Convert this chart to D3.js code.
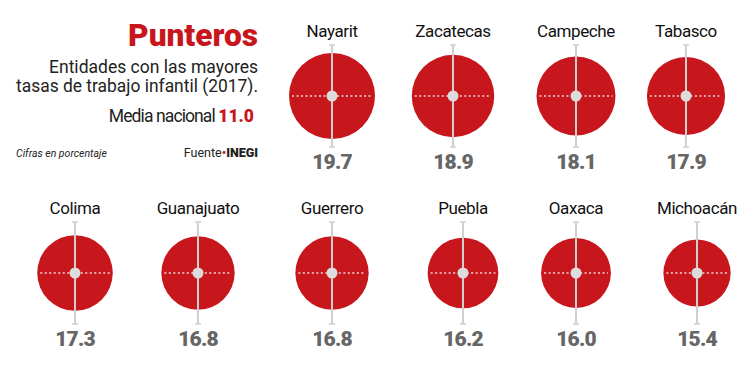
<!DOCTYPE html>
<html>
<head>
<meta charset="utf-8">
<script src="https://cdn.jsdelivr.net/npm/d3@7"></script>
<style>
  body { margin: 0; background: #fff; }
  text { font-family: Roboto, "Open Sans", sans-serif; }
</style>
</head>
<body>
<div id="chart"></div>
<script>
var estados = ["Nayarit", "Zacatecas", "Campeche", "Tabasco", "Colima", "Guanajuato", "Guerrero", "Puebla", "Oaxaca", "Michoacán"];
var tasas = [19.7, 18.9, 18.1, 17.9, 17.3, 16.8, 16.8, 16.2, 16.0, 15.4];
var etiquetas = ["19.7", "18.9", "18.1", "17.9", "17.3", "16.8", "16.8", "16.2", "16.0", "15.4"];
var fila = [0, 0, 0, 0, 1, 1, 1, 1, 1, 1];
var columnaX = [332, 453, 576, 686, 75, 198, 332, 463, 576, 697];

var width = 750, height = 367;
var rojo = "#c8161d", gris = "#666";

var svg = d3.select("#chart").append("svg")
  .attr("width", width)
  .attr("height", height);

/* radio proporcional al valor */
var r = d3.scaleLinear().domain([0, 19.7]).range([0, 43]);
var y = d3.scaleOrdinal().domain([0, 1]).range([96, 273]);

/* encabezado */
var head = svg.append("g").attr("text-anchor", "end");
head.append("text").attr("x", 258).attr("y", 46)
  .attr("fill", rojo).attr("font-size", 31).attr("font-weight", 900)
  .attr("textLength", 130).attr("lengthAdjust", "spacingAndGlyphs")
  .text("Punteros");
head.append("text").attr("x", 258).attr("y", 73)
  .attr("fill", "#222").attr("font-size", 17.5)
  .attr("textLength", 209).attr("lengthAdjust", "spacingAndGlyphs")
  .text("Entidades con las mayores");
head.append("text").attr("x", 258).attr("y", 92)
  .attr("fill", "#222").attr("font-size", 17.5)
  .attr("textLength", 242).attr("lengthAdjust", "spacingAndGlyphs")
  .text("tasas de trabajo infantil (2017).");
var media = head.append("text").attr("x", 254).attr("y", 122)
  .attr("font-size", 17.5).attr("fill", "#222");
media.append("tspan").style("letter-spacing", "-0.9px").text("Media nacional ");
media.append("tspan").attr("fill", rojo).attr("font-weight", 900).text("11.0");

svg.append("text").attr("x", 16).attr("y", 157)
  .attr("font-size", 10.5).attr("font-style", "italic").attr("fill", "#222")
  .text("Cifras en porcentaje");
var fuente = svg.append("text").attr("x", 258).attr("y", 157)
  .attr("text-anchor", "end").attr("font-size", 12.5).attr("fill", "#222");
fuente.append("tspan").text("Fuente");
fuente.append("tspan").attr("fill", rojo).attr("font-weight", 700).text("•");
fuente.append("tspan").attr("font-weight", 900).text("INEGI");

/* burbujas */
var data = estados.map(function(d, i) {
  return { nombre: d, valor: tasas[i], etiqueta: etiquetas[i], x: columnaX[i], fila: fila[i] };
});

var g = svg.selectAll(".estado")
  .data(data)
  .enter().append("g")
  .attr("class", "estado")
  .attr("transform", function(d) { return "translate(" + d.x + "," + y(d.fila) + ")"; });

g.append("circle")
  .attr("r", function(d) { return r(d.valor); })
  .attr("fill", rojo);

g.append("line")
  .attr("x1", function(d) { return -r(d.valor) + 3; })
  .attr("x2", function(d) { return r(d.valor) - 3; })
  .attr("stroke", "#f3d6d6").attr("stroke-width", 1.5)
  .attr("stroke-dasharray", "2,2.5");

g.append("line")
  .attr("y1", -51).attr("y2", 51)
  .attr("stroke", "#cfcfcf").attr("stroke-width", 2);
g.append("line")
  .attr("x1", -3).attr("x2", 3).attr("y1", -51).attr("y2", -51)
  .attr("stroke", "#cfcfcf").attr("stroke-width", 1.5);
g.append("line")
  .attr("x1", -3).attr("x2", 3).attr("y1", 51).attr("y2", 51)
  .attr("stroke", "#cfcfcf").attr("stroke-width", 1.5);

g.append("circle").attr("r", 5.5).attr("fill", "#dcdcdc");

g.append("text")
  .attr("y", -59).attr("text-anchor", "middle")
  .attr("font-size", 17).attr("fill", "#111")
  .style("letter-spacing", "-0.4px")
  .text(function(d) { return d.nombre; });

g.append("text")
  .attr("y", 73).attr("text-anchor", "middle")
  .attr("font-size", 21).attr("font-weight", 900).attr("fill", gris)
  .style("letter-spacing", "-0.8px")
  .text(function(d) { return d.etiqueta; });
</script>
</body>
</html>
